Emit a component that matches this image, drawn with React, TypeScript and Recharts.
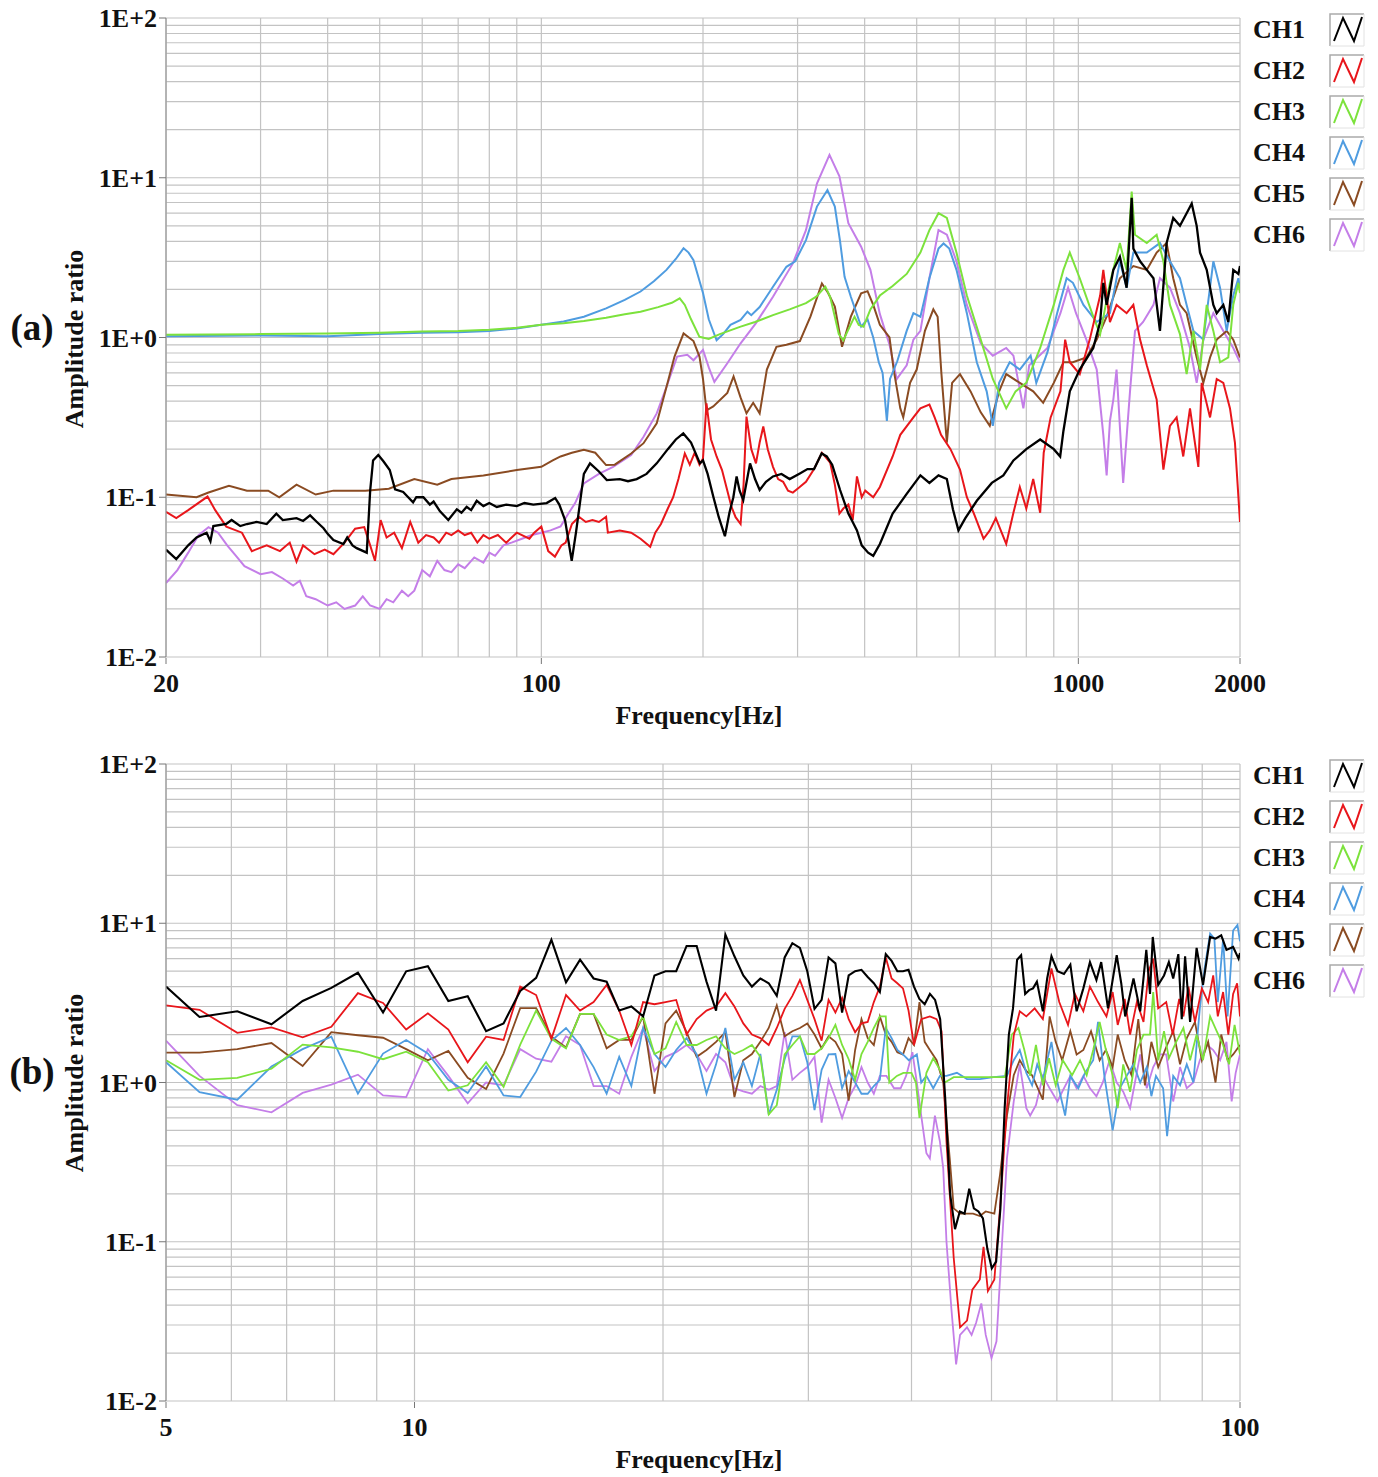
import React from "react";
import { CartesianGrid, Line, LineChart, XAxis, YAxis } from "recharts";

type Pair = [number, number];

const FONT = '"Liberation Serif", "Times New Roman", serif';

const channelNames = ["CH1", "CH2", "CH3", "CH4", "CH5", "CH6"];
const channelColors = ["#000000", "#e8161b", "#7ce23c", "#4f9ce0", "#8a4b22", "#c47ee8"];

// axis ticks (every grid line) and the labelled ones
const xTicksA = [20, 30, 40, 50, 60, 70, 80, 90, 100, 200, 300, 400, 500, 600, 700, 800, 900, 1000, 2000];
const xLabelsA: Record<string, string> = { "20": "20", "100": "100", "1000": "1000", "2000": "2000" };
const xTicksB = [5, 6, 7, 8, 9, 10, 20, 30, 40, 50, 60, 70, 80, 90, 100];
const xLabelsB: Record<string, string> = { "5": "5", "10": "10", "100": "100" };
const yTicks = [
  0.01, 0.02, 0.03, 0.04, 0.05, 0.06, 0.07, 0.08, 0.09,
  0.1, 0.2, 0.3, 0.4, 0.5, 0.6, 0.7, 0.8, 0.9,
  1, 2, 3, 4, 5, 6, 7, 8, 9,
  10, 20, 30, 40, 50, 60, 70, 80, 90, 100,
];
const yLabels: Record<string, string> = { "0.01": "1E-2", "0.1": "1E-1", "1": "1E+0", "10": "1E+1", "100": "1E+2" };

// (a) 20 - 2000 Hz, [frequency, amplitude ratio]
const aCH1: Pair[] = [
  [20, 0.047], [20.9, 0.041], [22, 0.05], [22.8, 0.056], [23.8, 0.06], [24.2, 0.053], [24.5, 0.066], [25.9, 0.068],
  [26.5, 0.072], [27.5, 0.066], [28.3, 0.068], [29.5, 0.07], [30.8, 0.068], [32.1, 0.079], [33, 0.072], [34, 0.073],
  [35, 0.074], [36, 0.071], [37.1, 0.077], [38.2, 0.07], [39.3, 0.064], [40, 0.059], [41, 0.054], [42.8, 0.051],
  [43.5, 0.056], [44.5, 0.05], [45.3, 0.048], [47.3, 0.045], [48, 0.11], [48.6, 0.17], [49.7, 0.184], [50.8, 0.168],
  [52.2, 0.148], [53.4, 0.112], [55.3, 0.108], [56.5, 0.1], [57.7, 0.093], [58.5, 0.1], [60.3, 0.1], [62, 0.09],
  [63, 0.094], [64.7, 0.082], [67.1, 0.072], [69.6, 0.084], [71, 0.08], [72.6, 0.087], [74, 0.083], [75.8, 0.095],
  [78, 0.088], [80, 0.092], [82.6, 0.087], [86, 0.09], [90, 0.088], [93, 0.092], [96.6, 0.09], [102.3, 0.092],
  [106.1, 0.099], [108, 0.09], [110.7, 0.072], [113.9, 0.04], [116, 0.06], [120, 0.14], [123.2, 0.163], [128, 0.145],
  [132.4, 0.128], [140, 0.13], [145, 0.126], [150.5, 0.13], [157, 0.14], [164, 0.163], [172, 0.2], [178, 0.23],
  [183.8, 0.251], [190, 0.22], [197.4, 0.163], [200, 0.17], [204, 0.14], [209, 0.101], [214, 0.075], [219.7, 0.057],
  [224, 0.08], [227.8, 0.1], [231, 0.135], [234, 0.11], [237.7, 0.096], [244.7, 0.163], [250, 0.13], [255, 0.111],
  [262, 0.125], [270, 0.135], [280, 0.14], [290, 0.13], [303, 0.141], [313, 0.15], [322, 0.15], [332.6, 0.188],
  [340, 0.18], [348, 0.16], [360, 0.111], [373, 0.079], [380, 0.07], [387, 0.062], [395, 0.05], [406, 0.045],
  [415, 0.043], [427, 0.051], [451, 0.079], [479, 0.105], [508, 0.137], [528, 0.123], [549, 0.137], [569, 0.13],
  [584, 0.084], [598, 0.062], [616, 0.074], [647, 0.095], [690, 0.123], [725, 0.137], [757, 0.17], [800, 0.2],
  [849, 0.23], [900, 0.2], [925, 0.18], [938, 0.26], [964, 0.46], [1006, 0.63], [1066, 0.86], [1098, 1.25],
  [1113, 2.2], [1129, 1.6], [1162, 2.65], [1195, 3.2], [1230, 2.05], [1257, 7.5], [1266, 3.6], [1303, 3.0],
  [1341, 2.65], [1380, 2.35], [1419, 1.1], [1460, 3.9], [1502, 5.6], [1546, 5.0], [1591, 6.0], [1626, 6.9],
  [1661, 5.0], [1685, 3.4], [1734, 2.65], [1784, 1.6], [1810, 1.42], [1862, 1.6], [1902, 1.25], [1943, 2.65],
  [1986, 2.5], [2000, 2.8],
];
const aCH2: Pair[] = [
  [20, 0.081], [20.9, 0.074], [22, 0.083], [23.9, 0.101], [24.7, 0.083], [25.9, 0.0655], [27.7, 0.06], [28.9, 0.046],
  [30.8, 0.05], [32.6, 0.046], [34, 0.052], [35, 0.0395], [36, 0.05], [37.8, 0.044], [39.5, 0.047], [41, 0.044],
  [43, 0.052], [45, 0.0635], [46.8, 0.065], [48, 0.05], [49, 0.04], [50.2, 0.072], [51.5, 0.056], [53.2, 0.06],
  [55, 0.048], [57, 0.07], [59, 0.052], [61, 0.058], [63, 0.056], [64.5, 0.052], [66.5, 0.06], [68, 0.058],
  [70, 0.062], [72, 0.058], [74, 0.06], [76, 0.052], [78, 0.058], [80, 0.055], [83, 0.058], [86, 0.052],
  [90, 0.06], [95, 0.055], [97, 0.06], [100, 0.0655], [103, 0.046], [106, 0.0425], [109, 0.05], [111, 0.052],
  [114, 0.068], [117.5, 0.0755], [121, 0.07], [124.5, 0.072], [128, 0.07], [132, 0.0755], [133, 0.06], [140, 0.062],
  [147, 0.06], [153, 0.055], [159.5, 0.049], [163, 0.06], [167, 0.068], [172, 0.085], [176, 0.1], [180, 0.13],
  [185, 0.188], [189, 0.16], [193, 0.19], [197, 0.16], [200, 0.175], [203, 0.387], [207, 0.23], [212, 0.18],
  [217, 0.148], [222, 0.11], [226, 0.087], [230, 0.075], [235, 0.068], [238, 0.12], [241, 0.32], [246, 0.2],
  [251, 0.163], [255, 0.22], [259, 0.277], [264, 0.2], [270, 0.155], [276, 0.13], [282, 0.125], [288, 0.11],
  [294, 0.107], [302, 0.115], [311, 0.125], [322, 0.15], [333, 0.19], [345, 0.165], [352, 0.12], [359, 0.079],
  [365, 0.085], [373, 0.09], [380, 0.072], [387, 0.135], [395, 0.1], [401, 0.11], [415, 0.1], [427, 0.116],
  [451, 0.18], [466, 0.246], [493, 0.316], [508, 0.36], [528, 0.38], [540, 0.316], [555, 0.246], [578, 0.2],
  [602, 0.149], [620, 0.1], [638, 0.08], [666, 0.055], [684, 0.062], [702, 0.074], [734, 0.051], [757, 0.08],
  [778, 0.116], [800, 0.085], [824, 0.13], [849, 0.08], [862, 0.19], [888, 0.316], [926, 0.46], [945, 0.97],
  [964, 0.7], [1006, 0.59], [1050, 0.97], [1098, 1.83], [1113, 2.65], [1145, 1.25], [1178, 1.6], [1230, 1.42],
  [1266, 1.6], [1303, 0.97], [1341, 0.67], [1399, 0.41], [1440, 0.149], [1481, 0.28], [1524, 0.316], [1568, 0.18],
  [1614, 0.36], [1673, 0.155], [1697, 0.52], [1759, 0.316], [1810, 0.55], [1862, 0.52], [1916, 0.36], [1957, 0.22],
  [2000, 0.07],
];
const aCH3: Pair[] = [
  [20, 1.04], [30, 1.05], [40, 1.06], [50, 1.07], [60, 1.09], [70, 1.1], [80, 1.12], [90, 1.15], [100, 1.2],
  [110, 1.23], [120, 1.27], [132, 1.33], [143, 1.4], [153, 1.45], [165, 1.55], [175, 1.65], [181, 1.76], [185, 1.6],
  [190, 1.3], [197, 1.01], [205, 0.98], [215, 1.05], [235, 1.17], [250, 1.25], [270, 1.38], [290, 1.5], [311, 1.64],
  [325, 1.8], [338, 2.08], [345, 1.8], [352, 1.35], [358, 1.05], [365, 0.96], [372, 1.1], [383, 1.35], [390, 1.2],
  [398, 1.17], [410, 1.5], [427, 1.83], [451, 2.1], [479, 2.5], [508, 3.4], [528, 4.7], [549, 6.0], [569, 5.6],
  [593, 3.4], [620, 1.83], [658, 0.97], [693, 0.55], [734, 0.36], [764, 0.46], [800, 0.52], [849, 0.86], [900, 1.6],
  [938, 2.65], [964, 3.4], [1006, 2.35], [1066, 1.35], [1098, 1.05], [1145, 2.2], [1195, 3.9], [1230, 2.65],
  [1257, 8.2], [1275, 4.4], [1341, 3.9], [1399, 4.4], [1440, 3.0], [1481, 1.6], [1546, 1.05], [1591, 0.59],
  [1638, 1.1], [1685, 0.63], [1734, 1.6], [1784, 1.1], [1836, 0.7], [1902, 0.75], [1943, 1.6], [1986, 2.2], [2000, 1.9],
];
const aCH4: Pair[] = [
  [20, 1.02], [30, 1.03], [40, 1.02], [50, 1.05], [60, 1.07], [70, 1.08], [80, 1.1], [90, 1.14], [100, 1.2],
  [110, 1.26], [120, 1.35], [132, 1.52], [143, 1.72], [153, 1.94], [162, 2.25], [171, 2.65], [178, 3.1], [184, 3.62],
  [188, 3.4], [192, 3.05], [196, 2.4], [200, 1.9], [205, 1.3], [212, 0.96], [218, 1.05], [225, 1.2], [235, 1.29],
  [242, 1.45], [246, 1.38], [255, 1.55], [270, 2.08], [286, 2.77], [297, 3.0], [311, 4.07], [326, 6.6], [341, 8.38],
  [352, 6.6], [360, 4.0], [367, 2.4], [377, 1.8], [394, 1.17], [405, 1.3], [415, 1.0], [425, 0.7], [432, 0.6],
  [440, 0.3], [446, 0.55], [460, 0.71], [479, 1.1], [493, 1.42], [508, 1.35], [528, 2.35], [549, 3.6], [561, 3.88],
  [575, 3.6], [593, 2.65], [620, 1.42], [647, 0.7], [675, 0.46], [693, 0.28], [712, 0.52], [745, 0.7], [778, 0.63],
  [815, 0.77], [835, 0.52], [876, 0.81], [913, 1.42], [951, 2.35], [977, 2.2], [1022, 1.6], [1082, 1.25], [1145, 1.42],
  [1195, 3.0], [1230, 2.05], [1266, 3.4], [1341, 3.4], [1419, 3.9], [1481, 3.0], [1546, 2.35], [1591, 1.6],
  [1638, 1.1], [1709, 0.97], [1784, 3.0], [1836, 2.05], [1889, 1.1], [1943, 1.83], [1986, 2.35], [2000, 2.0],
];
const aCH5: Pair[] = [
  [20, 0.104], [22.8, 0.1], [24, 0.107], [26.2, 0.118], [28.3, 0.11], [31, 0.11], [32.5, 0.1], [35, 0.12],
  [38, 0.104], [41, 0.11], [47, 0.11], [52, 0.113], [58, 0.13], [64, 0.12], [68, 0.13], [78, 0.137], [90, 0.148],
  [100, 0.155], [105, 0.17], [108.6, 0.18], [114, 0.19], [120, 0.198], [126, 0.19], [132, 0.159], [137, 0.16],
  [147, 0.188], [155, 0.218], [164, 0.29], [171, 0.49], [177, 0.76], [184, 1.06], [192, 0.95], [197, 0.76],
  [200, 0.55], [203, 0.35], [209, 0.37], [222, 0.45], [228, 0.57], [235, 0.42], [241, 0.335], [248, 0.39],
  [255, 0.335], [263, 0.63], [274, 0.875], [286, 0.9], [303, 0.95], [317, 1.35], [333, 2.18], [342, 1.9],
  [352, 1.56], [363, 0.875], [377, 1.35], [394, 1.89], [405, 1.95], [415, 1.6], [427, 1.2], [445, 1.0], [453, 0.63],
  [466, 0.36], [472, 0.316], [486, 0.52], [500, 0.63], [518, 1.1], [537, 1.5], [547, 1.35], [556, 0.59], [569, 0.22],
  [582, 0.52], [602, 0.59], [630, 0.46], [658, 0.34], [684, 0.28], [712, 0.46], [734, 0.59], [778, 0.52], [824, 0.46],
  [860, 0.39], [900, 0.52], [938, 0.7], [977, 0.7], [1035, 0.75], [1082, 0.97], [1129, 1.35], [1195, 2.35],
  [1266, 2.8], [1341, 2.65], [1399, 3.4], [1460, 3.9], [1502, 2.35], [1546, 1.6], [1591, 1.42], [1661, 0.75],
  [1709, 0.52], [1759, 0.75], [1810, 0.97], [1889, 1.1], [1943, 0.97], [2000, 0.75],
];
const aCH6: Pair[] = [
  [20, 0.029], [21, 0.035], [22, 0.045], [23, 0.058], [24, 0.065], [25, 0.06], [26, 0.05], [27, 0.043], [28, 0.037],
  [30, 0.033], [31.5, 0.034], [33, 0.031], [34.5, 0.028], [35.5, 0.03], [36.5, 0.024], [38, 0.023], [40, 0.021],
  [41.5, 0.022], [43, 0.02], [45, 0.021], [46.5, 0.024], [48, 0.021], [50, 0.02], [51.5, 0.023], [53, 0.022],
  [55, 0.026], [56.5, 0.024], [58, 0.026], [60, 0.035], [62, 0.032], [64, 0.04], [66, 0.035], [68, 0.034],
  [70, 0.038], [72, 0.036], [75, 0.042], [78, 0.039], [80, 0.045], [82, 0.043], [85, 0.05], [88, 0.052], [92, 0.055],
  [96, 0.058], [100, 0.06], [104, 0.062], [108.6, 0.0656], [112, 0.078], [115.6, 0.092], [120, 0.122], [128, 0.14],
  [136, 0.155], [147, 0.184], [155, 0.239], [164, 0.335], [171, 0.49], [179, 0.76], [187, 0.78], [192, 0.72],
  [200, 0.835], [205, 0.65], [210, 0.528], [222, 0.69], [235, 0.92], [251, 1.23], [270, 1.8], [294, 2.91], [311, 4.7],
  [326, 9.2], [344, 13.9], [359, 10.2], [373, 5.2], [394, 3.7], [410, 2.65], [427, 1.4], [445, 0.9], [459, 0.55],
  [479, 0.67], [493, 0.97], [508, 1.1], [528, 2.35], [549, 4.7], [569, 4.4], [593, 3.0], [620, 1.6], [658, 0.92],
  [693, 0.77], [734, 0.86], [757, 0.77], [790, 0.36], [810, 0.67], [876, 0.86], [926, 1.42], [957, 2.05], [990, 1.42],
  [1035, 0.97], [1082, 0.63], [1113, 0.246], [1129, 0.137], [1145, 0.3], [1162, 0.41], [1178, 0.63], [1212, 0.123],
  [1248, 0.46], [1275, 1.1], [1320, 1.25], [1380, 1.6], [1419, 2.35], [1481, 2.05], [1546, 1.42], [1614, 0.86],
  [1661, 0.52], [1709, 0.97], [1784, 1.42], [1862, 1.1], [1943, 0.86], [2000, 0.7],
];

// (b) 5 - 100 Hz
const bCH1: Pair[] = [
  [5, 4.0], [5.49, 2.58], [6.1, 2.8], [6.71, 2.32], [7.32, 3.25], [7.93, 3.93], [8.54, 4.89], [9.16, 2.75], [9.77, 4.99],
  [10.38, 5.37], [10.99, 3.25], [11.6, 3.48], [12.21, 2.1], [12.82, 2.35], [13.43, 3.76], [14.04, 4.54], [14.65, 7.87],
  [15.26, 4.26], [15.87, 5.9], [16.48, 4.5], [17.09, 4.3], [17.7, 2.83], [18.31, 3.0], [18.92, 2.6], [19.53, 4.7],
  [20.14, 5.0], [20.75, 5.0], [21.36, 7.2], [21.97, 7.2], [22.58, 4.3], [23.19, 2.83], [23.8, 8.5], [24.41, 6.2],
  [25.02, 4.7], [25.63, 4.0], [26.24, 4.5], [26.86, 4.2], [27.47, 3.5], [28.08, 6.1], [28.69, 7.5], [29.3, 7.0],
  [29.91, 5.0], [30.52, 2.9], [31.13, 3.3], [31.74, 6.1], [32.35, 5.6], [32.96, 2.75], [33.57, 4.7], [34.18, 5.0],
  [34.79, 5.1], [35.4, 4.6], [36.01, 4.2], [36.62, 3.7], [37.23, 6.4], [37.84, 5.8], [38.45, 5.0], [39.06, 5.0],
  [39.67, 5.1], [40.28, 4.0], [40.89, 3.35], [41.5, 3.1], [42.11, 3.6], [42.72, 3.3], [43.33, 2.5], [43.94, 0.8],
  [44.55, 0.2], [45.16, 0.12], [45.77, 0.155], [46.38, 0.15], [46.99, 0.215], [47.6, 0.162], [48.21, 0.155],
  [48.82, 0.14], [49.43, 0.09], [50.04, 0.068], [50.65, 0.075], [51.26, 0.162], [51.87, 0.69], [52.48, 2.0],
  [53.09, 2.92], [53.7, 5.9], [54.31, 6.3], [54.92, 3.6], [55.53, 3.8], [56.14, 3.9], [56.75, 4.3], [57.7, 2.8],
  [58.4, 4.5], [59.1, 6.2], [60.1, 5.0], [61.2, 4.8], [62.3, 5.5], [63.4, 2.8], [64.6, 3.9], [65.8, 5.7], [67.0, 4.4],
  [67.9, 5.7], [69.2, 2.92], [70.9, 6.3], [71.8, 4.2], [72.6, 2.6], [74.3, 4.5], [75.7, 2.8], [77.0, 6.8], [77.8, 3.6],
  [78.4, 8.2], [79.6, 4.1], [80.9, 4.7], [82.0, 5.7], [83.0, 4.5], [84.2, 6.4], [85.0, 2.5], [85.8, 6.2], [87.0, 2.4],
  [88.6, 7.0], [90.2, 4.1], [92.0, 8.2], [93.4, 8.0], [94.9, 8.4], [96.3, 6.8], [98.1, 7.1], [99.6, 6.0], [100, 6.5],
];
const bCH2: Pair[] = [
  [5, 3.05], [5.49, 2.86], [6.1, 2.05], [6.71, 2.22], [7.32, 1.92], [7.93, 2.24], [8.54, 3.64], [9.16, 3.16],
  [9.77, 2.15], [10.38, 2.72], [10.99, 2.15], [11.6, 1.34], [12.21, 1.94], [12.82, 1.85], [13.43, 4.0], [14.04, 3.54],
  [14.65, 1.88], [15.26, 3.54], [15.87, 2.83], [16.48, 3.2], [17.09, 4.1], [17.7, 2.83], [18.31, 1.72], [18.92, 3.2],
  [19.53, 3.1], [20.14, 3.2], [20.75, 3.3], [21.36, 2.0], [21.97, 2.5], [22.58, 2.83], [23.19, 3.0], [23.8, 3.64],
  [24.41, 3.0], [25.02, 2.35], [25.63, 2.0], [26.24, 1.9], [26.86, 1.72], [27.47, 2.2], [28.08, 2.9], [28.69, 3.5],
  [29.3, 4.4], [29.91, 3.3], [30.52, 2.5], [31.13, 1.83], [31.74, 3.3], [32.35, 2.75], [32.96, 3.4], [33.57, 2.5],
  [34.18, 2.07], [34.79, 2.35], [35.4, 2.4], [36.01, 3.2], [36.62, 4.0], [37.23, 6.1], [37.84, 4.5], [38.45, 4.2],
  [39.06, 3.9], [39.67, 2.83], [40.28, 1.72], [41.1, 2.5], [42.1, 2.6], [42.9, 2.5], [43.5, 2.1], [44.1, 0.425],
  [45.0, 0.079], [45.8, 0.029], [46.7, 0.032], [47.4, 0.05], [48.4, 0.058], [48.9, 0.093], [49.5, 0.049], [50.4, 0.058],
  [51.2, 0.162], [52.2, 0.69], [53.2, 1.97], [54.1, 2.8], [55.1, 2.6], [56.4, 2.92], [57.7, 2.5], [59.1, 5.2],
  [60.4, 3.2], [61.9, 2.3], [63.1, 3.6], [64.6, 2.8], [65.8, 4.0], [67.3, 3.2], [68.9, 2.6], [70.1, 3.7], [71.1, 2.3],
  [72.5, 3.35], [73.6, 2.0], [75.0, 3.2], [76.4, 2.4], [77.5, 5.0], [78.5, 6.0], [79.6, 2.92], [81.4, 3.2], [82.9, 2.0],
  [84.4, 3.35], [85.4, 2.6], [86.6, 4.0], [88.2, 2.4], [89.9, 3.9], [91.5, 3.2], [92.8, 4.7], [94.0, 2.6], [95.4, 3.7],
  [96.8, 2.0], [98.1, 3.6], [99.2, 4.2], [100, 2.6],
];
const bCH3: Pair[] = [
  [5, 1.38], [5.49, 1.04], [6.1, 1.07], [6.71, 1.22], [7.32, 1.73], [7.93, 1.66], [8.54, 1.56], [9.16, 1.4], [9.77, 1.56],
  [10.38, 1.34], [10.99, 0.89], [11.6, 0.96], [12.21, 1.34], [12.82, 0.94], [13.43, 1.73], [14.04, 2.83], [14.65, 1.88],
  [15.26, 1.64], [15.87, 2.7], [16.48, 2.7], [17.09, 2.0], [17.7, 1.85], [18.31, 1.95], [18.92, 2.6], [19.53, 1.51],
  [20.14, 1.64], [20.75, 2.4], [21.36, 1.72], [21.97, 1.72], [22.58, 1.85], [23.19, 1.95], [23.8, 1.64], [24.41, 1.51],
  [25.02, 1.6], [25.63, 1.72], [26.24, 1.45], [26.86, 0.63], [27.47, 0.72], [28.08, 1.5], [28.69, 1.72], [29.3, 1.95],
  [29.91, 1.51], [30.52, 1.51], [31.13, 1.64], [31.74, 1.9], [32.35, 2.3], [32.96, 1.72], [33.57, 1.4], [34.18, 1.04],
  [34.79, 1.51], [35.4, 1.8], [36.01, 2.2], [36.62, 2.6], [37.23, 2.6], [37.6, 1.0], [38.4, 1.1], [39.1, 1.15],
  [40.0, 1.15], [40.5, 1.0], [40.9, 0.6], [41.7, 1.15], [42.5, 1.42], [43.3, 1.2], [43.9, 1.0], [45.0, 1.08],
  [46.7, 1.08], [48.4, 1.08], [50.3, 1.08], [51.9, 1.08], [52.9, 2.0], [53.9, 2.2], [54.8, 1.6], [55.7, 1.1],
  [56.6, 1.72], [57.7, 0.96], [58.7, 1.42], [59.8, 0.96], [61.0, 1.38], [62.6, 1.11], [64.0, 1.38], [65.2, 1.11],
  [66.4, 1.6], [67.6, 2.4], [68.8, 1.6], [70.1, 1.11], [71.1, 0.69], [72.2, 1.3], [73.6, 0.875], [75.0, 1.6],
  [76.4, 2.0], [77.8, 2.0], [78.5, 3.7], [79.6, 1.38], [80.9, 2.1], [82.0, 1.42], [83.7, 1.8], [85.4, 2.2], [87.0, 1.38],
  [88.6, 2.0], [90.2, 1.38], [92.0, 2.6], [93.7, 2.1], [95.4, 1.72], [97.0, 1.3], [98.5, 2.3], [100, 1.5],
];
const bCH4: Pair[] = [
  [5, 1.34], [5.49, 0.87], [6.1, 0.78], [6.71, 1.26], [7.32, 1.62], [7.93, 1.94], [8.54, 0.85], [9.16, 1.52], [9.77, 1.85],
  [10.38, 1.52], [10.99, 1.04], [11.6, 0.86], [12.21, 1.26], [12.82, 0.83], [13.43, 0.81], [14.04, 1.17], [14.65, 1.83],
  [15.26, 2.2], [15.87, 1.72], [16.48, 1.25], [17.09, 0.85], [17.7, 1.45], [18.31, 0.95], [18.92, 2.2], [19.53, 1.51],
  [20.14, 1.25], [20.75, 1.6], [21.36, 1.9], [21.97, 1.5], [22.58, 0.85], [23.19, 1.3], [23.8, 2.2], [24.41, 1.04],
  [25.02, 1.34], [25.63, 0.95], [26.24, 1.51], [26.86, 0.63], [27.47, 0.9], [28.08, 1.4], [28.69, 1.95], [29.3, 1.95],
  [29.91, 1.34], [30.52, 0.67], [31.13, 1.2], [31.74, 1.5], [32.35, 1.51], [32.96, 0.92], [33.57, 1.18], [34.18, 1.0],
  [34.79, 0.85], [35.4, 0.85], [36.01, 0.95], [36.62, 1.04], [37.23, 2.2], [37.84, 1.9], [38.45, 1.6], [39.06, 1.5],
  [39.7, 1.38], [40.6, 1.5], [41.1, 1.0], [41.7, 1.1], [42.5, 0.92], [43.3, 1.1], [44.1, 1.1], [45.4, 1.15], [46.7, 1.05],
  [48.4, 1.05], [50.3, 1.08], [52.2, 1.1], [53.2, 1.38], [54.1, 1.6], [55.1, 1.15], [56.0, 0.96], [56.8, 1.3],
  [57.7, 1.05], [59.1, 1.8], [60.1, 1.0], [61.4, 0.62], [62.3, 1.1], [63.7, 0.92], [64.9, 1.15], [66.4, 1.38],
  [67.3, 2.4], [68.5, 1.1], [70.1, 0.5], [71.5, 0.92], [72.9, 1.1], [74.3, 1.3], [75.7, 1.0], [77.1, 1.25], [78.1, 0.82],
  [79.1, 1.1], [80.7, 0.92], [81.6, 0.46], [83.0, 1.1], [84.6, 0.96], [86.2, 1.3], [87.8, 1.0], [89.4, 2.92],
  [90.6, 5.2], [92.0, 8.6], [93.1, 8.0], [94.0, 3.2], [95.4, 8.0], [96.6, 2.6], [98.1, 9.0], [99.3, 9.75], [100, 7.7],
];
const bCH5: Pair[] = [
  [5, 1.54], [5.49, 1.54], [6.1, 1.62], [6.71, 1.77], [7.32, 1.27], [7.93, 2.07], [8.54, 1.98], [9.16, 1.91], [9.77, 1.62],
  [10.38, 1.38], [10.99, 1.58], [11.6, 1.07], [12.21, 0.91], [12.82, 1.52], [13.43, 2.93], [14.04, 2.93], [14.65, 1.94],
  [15.26, 1.66], [15.87, 2.7], [16.48, 2.7], [17.09, 1.64], [17.7, 1.85], [18.31, 1.85], [18.92, 2.6], [19.53, 0.85],
  [20.14, 2.35], [20.75, 2.83], [21.36, 2.07], [21.97, 1.45], [22.58, 1.6], [23.19, 1.8], [23.8, 2.07], [24.41, 0.81],
  [25.02, 1.38], [25.63, 1.51], [26.24, 1.8], [26.86, 2.2], [27.47, 3.05], [28.08, 1.95], [28.69, 2.1], [29.3, 2.2],
  [29.91, 2.35], [30.52, 2.0], [31.13, 1.64], [31.74, 1.95], [32.35, 1.8], [32.96, 1.51], [33.57, 0.77], [34.18, 1.6],
  [34.79, 2.5], [35.4, 1.9], [36.01, 1.72], [36.62, 2.6], [37.23, 2.0], [37.84, 1.8], [38.45, 1.55], [39.06, 1.5],
  [39.67, 1.9], [40.28, 1.72], [40.9, 3.2], [41.5, 1.8], [42.1, 1.6], [42.9, 1.38], [43.7, 1.0], [44.5, 0.334],
  [45.0, 0.162], [45.8, 0.15], [46.7, 0.15], [47.5, 0.15], [48.4, 0.145], [49.2, 0.155], [50.4, 0.15], [51.2, 0.263],
  [52.2, 0.62], [53.2, 1.11], [54.1, 1.38], [55.1, 1.18], [56.0, 1.11], [57.7, 0.78], [58.8, 2.6], [59.8, 1.8],
  [60.9, 1.38], [62.3, 2.1], [63.4, 1.5], [64.6, 1.6], [66.0, 2.1], [67.6, 1.38], [68.8, 1.6], [70.1, 1.25], [71.1, 2.0],
  [72.5, 1.38], [73.9, 1.11], [75.3, 2.5], [76.7, 0.96], [78.1, 1.8], [79.6, 1.25], [81.6, 1.72], [83.0, 2.1],
  [84.6, 1.3], [86.2, 1.9], [88.2, 2.4], [89.9, 1.38], [91.5, 1.8], [93.4, 1.0], [94.9, 2.0], [96.6, 1.38], [98.1, 1.5],
  [100, 1.72],
];
const bCH6: Pair[] = [
  [5, 1.83], [5.49, 1.1], [6.1, 0.72], [6.71, 0.65], [7.32, 0.86], [7.93, 0.97], [8.54, 1.12], [9.16, 0.83], [9.77, 0.81],
  [10.38, 1.62], [10.99, 1.1], [11.6, 0.74], [12.21, 1.0], [12.82, 0.96], [13.43, 1.62], [14.04, 1.41], [14.65, 1.35],
  [15.26, 1.95], [15.87, 1.72], [16.48, 0.95], [17.09, 0.95], [17.7, 0.85], [18.31, 1.45], [18.92, 2.2], [19.53, 1.18],
  [20.14, 1.45], [20.75, 1.55], [21.36, 1.72], [21.97, 1.5], [22.58, 1.18], [23.19, 1.51], [23.8, 1.34], [24.41, 0.92],
  [25.02, 0.88], [25.63, 0.85], [26.24, 0.95], [26.86, 0.9], [27.47, 0.95], [28.08, 2.07], [28.69, 1.04], [29.3, 1.15],
  [29.91, 1.25], [30.52, 1.45], [31.13, 0.56], [31.74, 1.04], [32.35, 0.8], [32.96, 0.6], [33.57, 0.8], [34.18, 0.95],
  [34.79, 1.25], [35.4, 1.0], [36.01, 0.85], [36.62, 1.1], [37.3, 1.1], [38.1, 0.92], [38.8, 0.92], [39.4, 1.1],
  [40.1, 1.55], [40.6, 1.0], [41.1, 0.62], [41.7, 0.36], [42.1, 0.334], [42.7, 0.62], [43.3, 0.425], [43.7, 0.29],
  [44.1, 0.1], [44.7, 0.0384], [45.3, 0.017], [45.8, 0.026], [46.7, 0.029], [47.3, 0.026], [47.9, 0.031], [48.6, 0.041],
  [49.2, 0.026], [50.0, 0.0186], [50.7, 0.0237], [51.5, 0.1], [52.2, 0.334], [53.2, 0.76], [54.1, 1.3], [55.1, 0.69],
  [55.7, 0.62], [56.6, 0.72], [57.7, 1.1], [58.8, 0.92], [60.1, 0.76], [60.9, 0.875], [62.3, 1.1], [63.4, 0.92],
  [64.6, 1.1], [65.8, 0.92], [67.0, 0.82], [68.2, 1.0], [69.5, 1.38], [70.9, 1.0], [72.2, 0.875], [73.6, 0.69],
  [74.6, 1.0], [75.7, 1.5], [77.1, 0.92], [78.5, 1.25], [80.0, 1.5], [81.4, 1.5], [83.0, 0.76], [84.6, 1.25],
  [86.2, 0.92], [87.8, 1.0], [89.4, 1.38], [91.2, 1.72], [92.8, 1.6], [94.6, 1.38], [96.3, 1.8], [97.7, 0.76],
  [98.8, 1.15], [100, 1.5],
];

const panelASeries = [aCH1, aCH2, aCH3, aCH4, aCH5, aCH6];
const panelBSeries = [bCH1, bCH2, bCH3, bCH4, bCH5, bCH6];

const toPoints = (pairs: Pair[]) => pairs.map(([f, v]) => ({ f, v }));

const textStyle = { fontFamily: FONT, fontWeight: 700, fill: "#111" } as const;

function makeXTick(labels: Record<string, string>) {
  return function XTick(props: any) {
    const { x, y, payload } = props;
    const label = labels[String(payload.value)];
    if (!label) return <g />;
    return (
      <g>
        <line x1={x} x2={x} y1={y + 1} y2={y + 7} stroke="#777" strokeWidth={1} />
        <text x={x} y={y + 26} dy="0.35em" textAnchor="middle" fontSize={26} {...textStyle}>
          {label}
        </text>
      </g>
    );
  };
}

function YTick(props: any) {
  const { x, y, payload } = props;
  const label = yLabels[String(payload.value)];
  if (!label) return <g />;
  return (
    <g>
      <line x1={x - 7} x2={x} y1={y} y2={y} stroke="#777" strokeWidth={1} />
      <text x={x - 9} y={y} dy="0.35em" textAnchor="end" fontSize={26} {...textStyle}>
        {label}
      </text>
    </g>
  );
}

function LegendIcon({ color }: { color: string }) {
  return (
    <svg width={36} height={34} style={{ display: "block" }}>
      <path d="M1 33 L1 1 L35 1" fill="none" stroke="#aaa" strokeWidth={1.5} />
      <path d="M35 1 L35 33 L1 33" fill="none" stroke="#e2e2e2" strokeWidth={1} />
      <polyline points="5,28 14,5 25,28 33,4" fill="none" stroke={color} strokeWidth={2} />
    </svg>
  );
}

function ChannelLegend({ top }: { top: number }) {
  return (
    <>
      {channelNames.map((name, i) => (
        <div key={name}>
          <div
            style={{
              position: "absolute",
              left: 1253,
              top: top + i * 41 - 16,
              height: 32,
              lineHeight: "32px",
              fontFamily: FONT,
              fontWeight: 700,
              fontSize: 26,
              color: "#111",
            }}
          >
            {name}
          </div>
          <div style={{ position: "absolute", left: 1329, top: top + i * 41 - 17 }}>
            <LegendIcon color={channelColors[i]} />
          </div>
        </div>
      ))}
    </>
  );
}

function Panel({
  top,
  bottomMargin,
  domain,
  ticks,
  labels,
  series,
  tag,
  tagY,
  lineWidth,
}: {
  top: number;
  bottomMargin: number;
  domain: [number, number];
  ticks: number[];
  labels: Record<string, string>;
  series: Pair[][];
  tag: string;
  tagY: number;
  lineWidth: number;
}) {
  const XTick = makeXTick(labels);
  const order = [5, 4, 3, 2, 1, 0];
  return (
    <>
      <div style={{ position: "absolute", left: 0, top }}>
        <LineChart width={1378} height={720} margin={{ top: 18, right: 138, bottom: bottomMargin, left: 0 }}>
          <CartesianGrid stroke="#c3c3c3" strokeWidth={1.2} />
          <XAxis
            type="number"
            dataKey="f"
            scale="log"
            domain={domain}
            ticks={ticks}
            interval={0}
            allowDataOverflow
            tick={XTick}
            tickLine={false}
            tickSize={0}
            tickMargin={0}
            axisLine={false}
            height={30}
          />
          <YAxis
            type="number"
            scale="log"
            domain={[0.01, 100]}
            ticks={yTicks}
            interval={0}
            allowDataOverflow
            tick={YTick}
            tickLine={false}
            tickSize={0}
            tickMargin={0}
            axisLine={{ stroke: "#999", strokeWidth: 1.2 }}
            width={166}
          />
          {order.map((i) => (
            <Line
              key={channelNames[i]}
              name={channelNames[i]}
              data={toPoints(series[i])}
              dataKey="v"
              type="linear"
              stroke={channelColors[i]}
              strokeWidth={i === 0 ? lineWidth + 0.3 : lineWidth}
              dot={false}
              activeDot={false}
              isAnimationActive={false}
            />
          ))}
        </LineChart>
      </div>
      <div
        style={{
          position: "absolute",
          left: 549,
          width: 300,
          top: tagY + 388 - 16,
          height: 32,
          lineHeight: "32px",
          textAlign: "center",
          fontFamily: FONT,
          fontWeight: 700,
          fontSize: 26,
          color: "#111",
        }}
      >
        Frequency[Hz]
      </div>
      <div
        style={{
          position: "absolute",
          left: 75 - 110,
          width: 220,
          top: tagY + 11 - 16,
          height: 32,
          lineHeight: "32px",
          textAlign: "center",
          transform: "rotate(-90deg)",
          fontFamily: FONT,
          fontWeight: 700,
          fontSize: 26,
          color: "#111",
        }}
      >
        Amplitude ratio
      </div>
      <div
        style={{
          position: "absolute",
          left: 4,
          width: 56,
          top: tagY - 22,
          height: 44,
          lineHeight: "44px",
          textAlign: "center",
          fontFamily: FONT,
          fontWeight: 700,
          fontSize: 37,
          color: "#111",
        }}
      >
        {tag}
      </div>
    </>
  );
}

export default function App() {
  return (
    <div
      style={{
        position: "absolute",
        left: 0,
        top: 0,
        width: 1378,
        height: 1477,
        background: "#fff",
        overflow: "hidden",
      }}
    >
      <Panel
        top={0}
        bottomMargin={33}
        domain={[20, 2000]}
        ticks={xTicksA}
        labels={xLabelsA}
        series={panelASeries}
        tag="(a)"
        tagY={328}
        lineWidth={2}
      />
      <Panel
        top={746}
        bottomMargin={35}
        domain={[5, 100]}
        ticks={xTicksB}
        labels={xLabelsB}
        series={panelBSeries}
        tag="(b)"
        tagY={1072}
        lineWidth={1.8}
      />
      <ChannelLegend top={30} />
      <ChannelLegend top={776} />
    </div>
  );
}
